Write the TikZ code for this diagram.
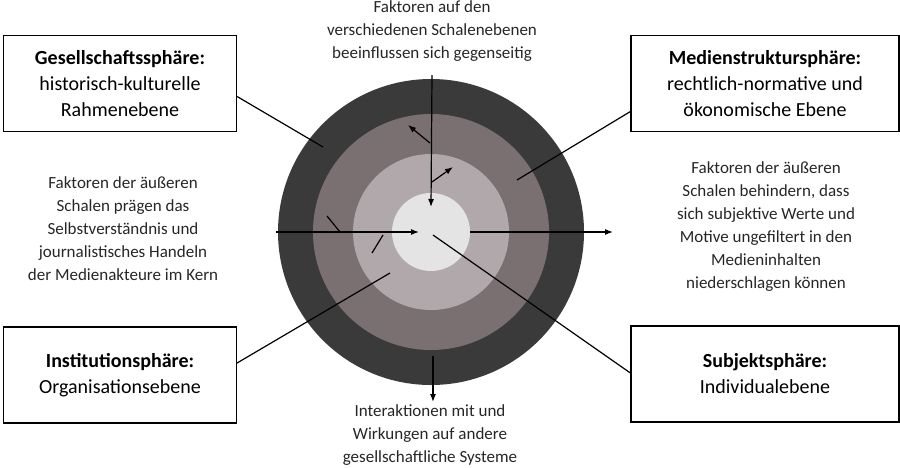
\documentclass[tikz,border=0pt]{standalone}
\usepackage{fontspec}
\setmainfont{Carlito}
\usetikzlibrary{arrows.meta,calc}
\definecolor{ringA}{HTML}{3A3A3A}
\definecolor{ringB}{HTML}{7A7072}
\definecolor{ringC}{HTML}{B0A8AA}
\definecolor{ringD}{HTML}{E4E4E4}
\tikzset{
	spherebox/.style={draw,line width=1.2pt,minimum width=233pt,minimum height=96pt,align=center,font=\fontsize{20}{26}\selectfont},
	sidetext/.style={align=center,text=black!85,font=\fontsize{17}{23}\selectfont},
	arr/.style={line width=1.2pt,-{Latex[length=8pt,width=6pt]}},
	ln/.style={line width=1.2pt}
}
\begin{document}
\begin{tikzpicture}[x=1pt,y=-1pt]
	\useasboundingbox (0,0) rectangle (900,467);
	
	% shells
	\fill[ringA] (431,232) circle (153);
	\fill[ringB] (431,232) circle (118);
	\fill[ringC] (431,232) circle (78);
	\fill[ringD] (431,232) circle (39);
	\coordinate (core) at (431,232);
	
	\node[spherebox] (gesell) at (120,83.5) {\textbf{Gesellschaftssphäre:}\\historisch-kulturelle\\Rahmenebene};
	\node[spherebox,minimum width=268pt] (medien) at (765,83.5) {\textbf{Medienstruktursphäre:}\\rechtlich-normative und\\ökonomische Ebene};
	\node[spherebox] (instit) at (120,375) {\textbf{Institutionsphäre:}\\Organisationsebene};
	\node[spherebox,minimum width=268pt] (subjekt) at (765,374) {\textbf{Subjektsphäre:}\\Individualebene};
	
	\node[sidetext] (top) at (432,31) {Faktoren auf den\\verschiedenen Schalenebenen\\beeinflussen sich gegenseitig};
	\node[sidetext] (left) at (123,229) {Faktoren der äußeren\\Schalen prägen das\\Selbstverständnis und\\journalistisches Handeln\\der Medienakteure im Kern};
	\node[sidetext] (right) at (766,227) {Faktoren der äußeren\\Schalen behindern, dass\\sich subjektive Werte und\\Motive ungefiltert in den\\Medieninhalten\\niederschlagen können};
	\node[sidetext] (bottom) at (430,435) {Interaktionen mit und\\Wirkungen auf andere\\gesellschaftliche Systeme};
	
	% connectors to the spheres
	\draw[ln] ($(gesell.east)+(0,13)$) -- (323,147);
	\draw[ln] ($(medien.west)+(0,28)$) -- (517,180);
	\draw[ln] ($(instit.east)+(0,-12)$) -- (390,273);
	\draw[ln] ($(subjekt.west)+(0,-1)$) -- ($(core)+(2,3)$);
	
	% arrows
	\draw[arr] (432,75) -- ($(core)+(0,-25)$);
	\draw[arr] (430,143) -- (408,125);
	\draw[arr] (432,182) -- (453,167);
	\draw[arr] (276,232) -- ($(core)+(-12,0)$);
	\draw[ln] (327,216) -- (340,232);
	\draw[ln] (372,253) -- (383,235);
	\draw[arr] ($(core)+(39,0)$) -- (613,232);
	\draw[arr] (433,356) -- (433,402);
\end{tikzpicture}
\end{document}
